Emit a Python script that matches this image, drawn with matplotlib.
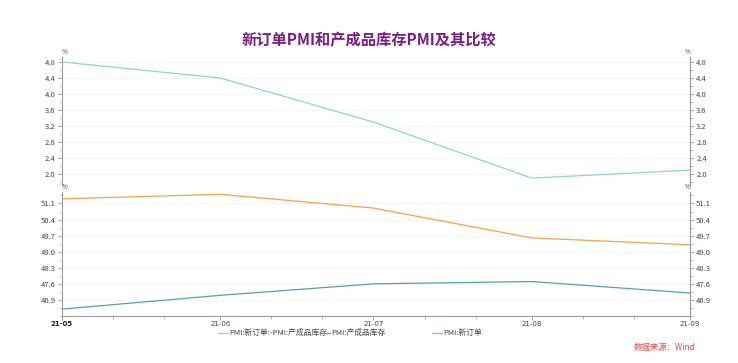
import numpy as np
import matplotlib
matplotlib.use("Agg")
import matplotlib.pyplot as plt
import matplotlib.dates as mdates
from matplotlib.ticker import MultipleLocator
import datetime as dt

plt.rcParams['font.family'] = ['Noto Sans CJK SC', 'DejaVu Sans']

months = [dt.date(2021, m, 1) for m in range(5, 10)]
month_labels = ['21-05', '21-06', '21-07', '21-08', '21-09']
new_orders = [51.3, 51.5, 50.9, 49.6, 49.3]
inventory = [46.5, 47.1, 47.6, 47.7, 47.2]
spread = [4.8, 4.4, 3.3, 1.9, 2.1]

top_ticks = [2.0, 2.4, 2.8, 3.2, 3.6, 4.0, 4.4, 4.8]
bot_ticks = [46.9, 47.6, 48.3, 49.0, 49.7, 50.4, 51.1]

series_names = ['PMI:新订单:-PMI:产成品库存', 'PMI:产成品库存', 'PMI:新订单']

c_spread = '#8fd4d2'
c_inv = '#5a9bb9'
c_new = '#f6a24c'
gray = '#9a9a9a'
txt = '#444444'

fig = plt.figure(figsize=(7.38, 3.63), dpi=100)
ax1 = fig.add_axes([0.084, 0.490, 0.851, 0.353])
ax2 = fig.add_axes([0.084, 0.1295, 0.851, 0.3416])

l1, = ax1.plot(months, spread, color=c_spread, lw=0.9)
l2, = ax2.plot(months, inventory, color=c_inv, lw=0.9)
l3, = ax2.plot(months, new_orders, color=c_new, lw=0.9)

ax1.set_ylim(1.725, 4.925)
ax2.set_ylim(46.2, 51.6)
ax1.set_yticks(top_ticks)
ax2.set_yticks(bot_ticks)
ax1.yaxis.set_minor_locator(MultipleLocator(0.2))
ax2.yaxis.set_minor_locator(MultipleLocator(0.35))

for ax in (ax1, ax2):
    ax.set_xlim(months[0], months[-1])
    ax.spines['top'].set_visible(False)
    for s in ('left', 'right', 'bottom'):
        ax.spines[s].set_color(gray)
        ax.spines[s].set_linewidth(0.8)
    ax.grid(axis='y', color='#f2f2f2', lw=0.6)
    ax.set_axisbelow(True)
    ax.tick_params(axis='y', which='both', left=True, right=True,
                   labelleft=True, labelright=True, colors=gray,
                   labelcolor=txt, labelsize=5.5, pad=1.5)
    ax.tick_params(axis='y', which='major', length=3, width=0.6)
    ax.tick_params(axis='y', which='minor', length=1.8, width=0.5)
    ax.text(0.0, 1.01, '%', transform=ax.transAxes, fontsize=4.5,
            color=txt, ha='left', va='bottom')
    ax.text(1.0, 1.01, '%', transform=ax.transAxes, fontsize=4.5,
            color=txt, ha='right', va='bottom')

ax1.spines['bottom'].set_visible(False)
ax1.tick_params(axis='x', which='both', bottom=False, labelbottom=False)

ax2.set_xticks(months)
ax2.set_xticklabels(month_labels, family='DejaVu Sans')
ax2.xaxis.set_minor_locator(mdates.DayLocator(bymonthday=[11, 21]))
ax2.tick_params(axis='x', which='both', colors=gray, labelcolor=txt,
                labelsize=5, pad=0.5)
ax2.tick_params(axis='x', which='major', length=3, width=0.6)
ax2.tick_params(axis='x', which='minor', length=2, width=0.5)
ax2.get_xticklabels()[0].set_fontweight('bold')
ax2.get_xticklabels()[0].set_color('#222222')

fig.text(0.5, 0.888, '新订单PMI和产成品库存PMI及其比较', ha='center', va='center',
         fontsize=11, fontweight='bold', color='#7a1e86')

# legend entries placed individually to match the uneven spacing
leg_x = [0.295, 0.434, 0.585]
for line, name, x in zip([l1, l2, l3], series_names, leg_x):
    lg = fig.legend([line], [name], loc='center left', bbox_to_anchor=(x, 0.082),
                    frameon=False, fontsize=5.6, handlelength=1.3,
                    handletextpad=0.15, borderpad=0, borderaxespad=0,
                    labelcolor=txt)

fig.text(0.942, 0.042, '数据来源：Wind', ha='right', va='center', fontsize=6,
         style='italic', color='#e8483f')

fig.savefig('out.png', dpi=100)
